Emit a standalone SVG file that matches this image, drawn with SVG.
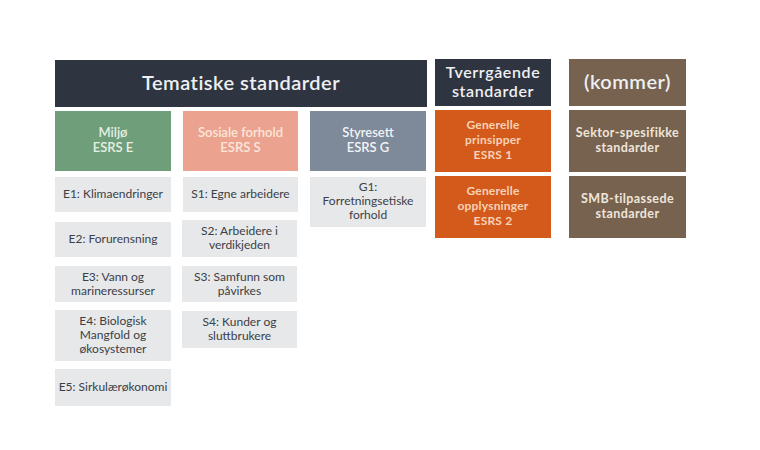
<svg xmlns="http://www.w3.org/2000/svg" width="760" height="450" viewBox="0 0 760 450">
<style>
text{font-family:Lato,"Open Sans","Liberation Sans",sans-serif;text-anchor:middle}
.dark{fill:#2e3541}
.brown{fill:#76624f}
.orange{fill:#d45a1c}
.item{fill:#e7e8ea}
.h1{font-size:20px;font-weight:600;fill:#eef0f2;letter-spacing:0.5px}
.h2{font-size:16px;font-weight:600;fill:#eef0f2;letter-spacing:0.6px}
.cat{font-size:13px;font-weight:600}
.t{font-size:12px;fill:#3b4047}
.or{font-size:12px;font-weight:700;fill:#f7d2b8;letter-spacing:0.2px}
.br{font-size:12.5px;font-weight:700;fill:#efe5da;letter-spacing:0.4px}
</style>
<rect width="760" height="450" fill="#ffffff"/>
<g id="tematiske"><rect class="dark" x="55" y="60" width="372" height="47"/><text class="h1" x="241" y="90">Tematiske standarder</text></g>
<g id="tverrgaende"><rect class="dark" x="435" y="59" width="116" height="47"/><text class="h2" x="493" y="78">Tverrgående</text><text class="h2" x="493" y="97">standarder</text></g>
<g id="kommer"><rect class="brown" x="569" y="59" width="117" height="47"/><text class="h1" x="627.5" y="89">(kommer)</text></g>
<g id="miljo"><rect fill="#6f9e7b" x="55" y="111" width="116" height="60"/><text class="cat" x="113" y="137" fill="#e6f0e2">Miljø</text><text class="cat" x="113" y="152" fill="#e6f0e2">ESRS E</text></g>
<g id="sosiale"><rect fill="#eba28e" x="183" y="111" width="115" height="60"/><text class="cat" x="240.5" y="137" fill="#fbe6dc">Sosiale forhold</text><text class="cat" x="240.5" y="152" fill="#fbe6dc">ESRS S</text></g>
<g id="styresett"><rect fill="#7e8999" x="310" y="111" width="116" height="60"/><text class="cat" x="368" y="137" fill="#f1f3f6">Styresett</text><text class="cat" x="368" y="152" fill="#f1f3f6">ESRS G</text></g>
<g id="e1"><rect class="item" x="55" y="177" width="116" height="35"/><text class="t" x="113" y="198">E1: Klimaendringer</text></g>
<g id="e2"><rect class="item" x="55" y="222" width="116" height="35"/><text class="t" x="113" y="243">E2: Forurensning</text></g>
<g id="e3"><rect class="item" x="55" y="266" width="116" height="36"/><text class="t" x="113" y="281">E3: Vann og</text><text class="t" x="113" y="295">marineressurser</text></g>
<g id="e4"><rect class="item" x="55" y="310" width="116" height="51"/><text class="t" x="113" y="325">E4: Biologisk</text><text class="t" x="113" y="339">Mangfold og</text><text class="t" x="113" y="353">økosystemer</text></g>
<g id="e5"><rect class="item" x="55" y="369" width="116" height="37"/><text class="t" x="113" y="391">E5: Sirkulærøkonomi</text></g>
<g id="s1"><rect class="item" x="183" y="177" width="115" height="35"/><text class="t" x="240.5" y="198">S1: Egne arbeidere</text></g>
<g id="s2"><rect class="item" x="182" y="220" width="115" height="37"/><text class="t" x="239.5" y="235">S2: Arbeidere i</text><text class="t" x="239.5" y="249">verdikjeden</text></g>
<g id="s3"><rect class="item" x="182" y="266" width="115" height="36"/><text class="t" x="239.5" y="281">S3: Samfunn som</text><text class="t" x="239.5" y="295">påvirkes</text></g>
<g id="s4"><rect class="item" x="182" y="311" width="115" height="37"/><text class="t" x="239.5" y="326">S4: Kunder og</text><text class="t" x="239.5" y="340">sluttbrukere</text></g>
<g id="g1"><rect class="item" x="310" y="177" width="116" height="50"/><text class="t" x="368" y="191">G1:</text><text class="t" x="368" y="205">Forretningsetiske</text><text class="t" x="368" y="219">forhold</text></g>
<g id="esrs1"><rect class="orange" x="435" y="110" width="116" height="62"/><text class="or" x="493" y="129">Generelle</text><text class="or" x="493" y="144">prinsipper</text><text class="or" x="493" y="159">ESRS 1</text></g>
<g id="esrs2"><rect class="orange" x="435" y="176" width="116" height="62"/><text class="or" x="493" y="195">Generelle</text><text class="or" x="493" y="210">opplysninger</text><text class="or" x="493" y="225">ESRS 2</text></g>
<g id="sektor"><rect class="brown" x="569" y="110" width="117" height="62"/><text class="br" x="627.5" y="137">Sektor-spesifikke</text><text class="br" x="627.5" y="152">standarder</text></g>
<g id="smb"><rect class="brown" x="569" y="176" width="117" height="62"/><text class="br" x="627.5" y="203">SMB-tilpassede</text><text class="br" x="627.5" y="218">standarder</text></g>
<g id="connectors"/>
</svg>
